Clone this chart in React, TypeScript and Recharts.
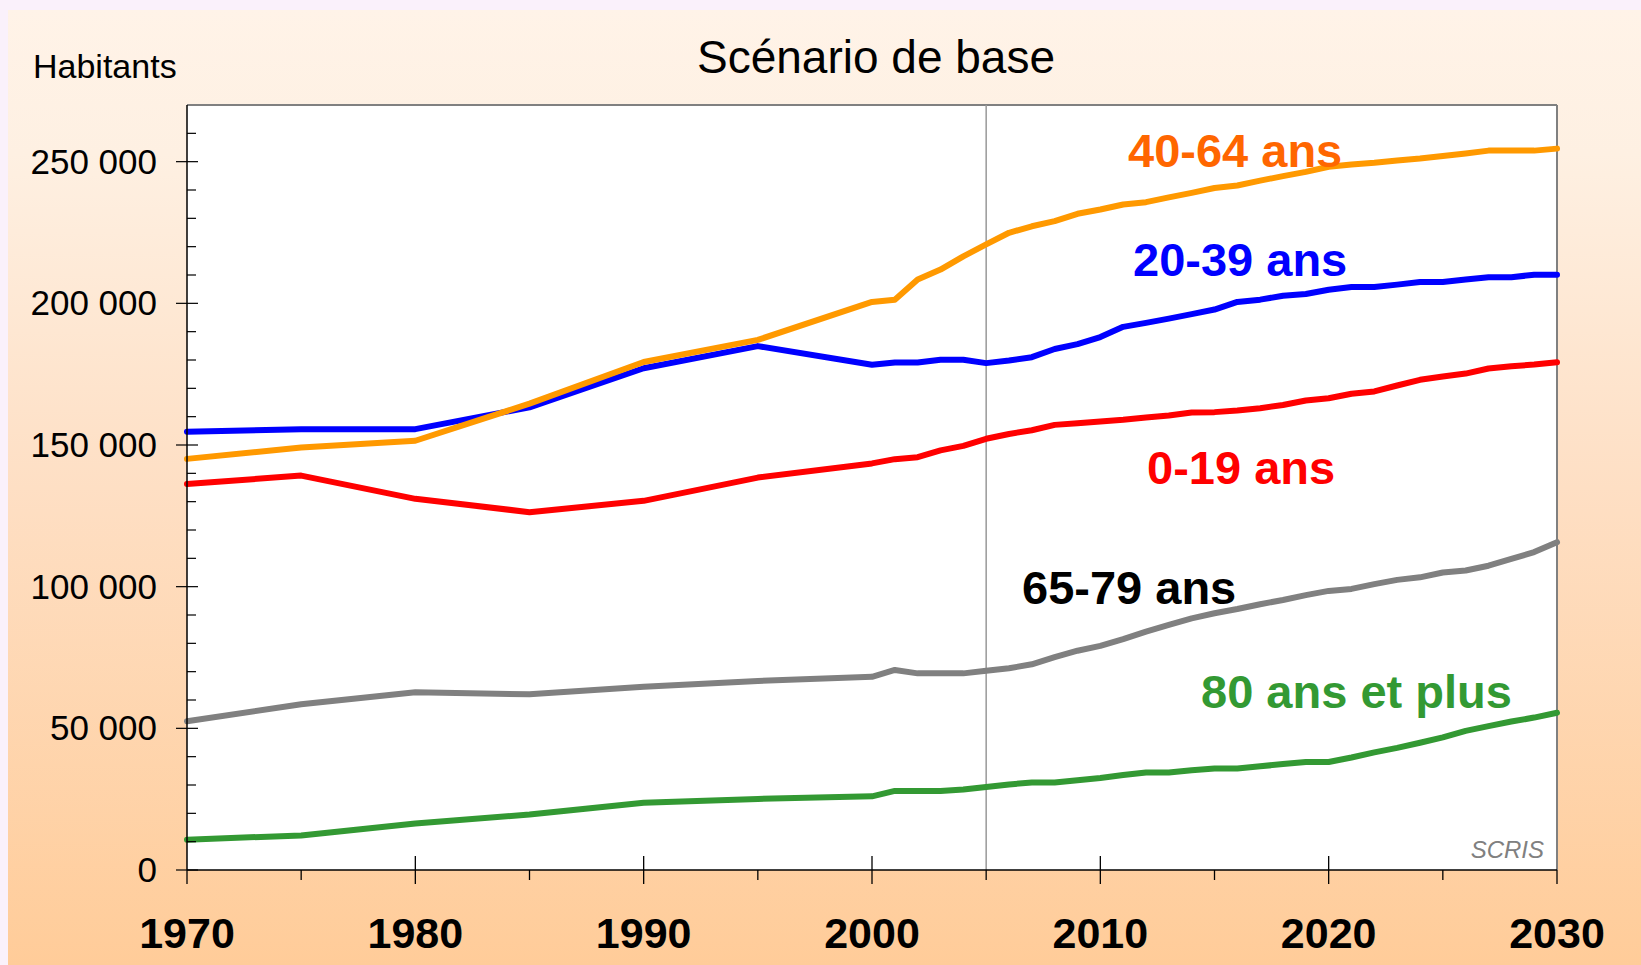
import React from "react";
import { LineChart, Line, XAxis, YAxis, CartesianGrid, ReferenceLine } from "recharts";

const years = [
  1970, 1975, 1980, 1985, 1990, 1995, 2000, 2001, 2002, 2003, 2004, 2005, 2006, 2007, 2008, 2009, 2010,
  2011, 2012, 2013, 2014, 2015, 2016, 2017, 2018, 2019, 2020, 2021, 2022, 2023, 2024, 2025, 2026, 2027,
  2028, 2029, 2030,
];

const age0to19 = [
  136200, 139200, 131000, 126300, 130300, 138500, 143500, 145000, 145700, 148100, 149700, 152200, 153900,
  155200, 157100, 157700, 158300, 158900, 159700, 160400, 161500, 161600, 162200, 163000, 164100, 165700,
  166500, 168100, 168900, 171000, 173000, 174200, 175200, 177000, 177800, 178400, 179200,
];

const age20to39 = [
  154700, 155600, 155600, 163300, 177100, 184900, 178300, 179100, 179100, 180100, 180100, 178900, 179800,
  181000, 183900, 185600, 188100, 191700, 193100, 194600, 196200, 197800, 200500, 201300, 202700, 203300,
  204800, 205800, 205800, 206600, 207500, 207500, 208400, 209200, 209200, 210100, 210100,
];

const age40to64 = [
  145100, 149100, 151500, 164600, 179300, 187100, 200500, 201300, 208400, 211900, 216600, 220800, 224900,
  227200, 229000, 231600, 233100, 234900, 235700, 237400, 239000, 240700, 241600, 243300, 244900, 246400,
  248200, 249000, 249600, 250400, 251100, 252000, 252900, 253900, 253900, 253900, 254600,
];

const age65to79 = [
  52500, 58500, 62700, 62000, 64700, 66700, 68200, 70600, 69400, 69400, 69400, 70300, 71200, 72600, 75100,
  77400, 79100, 81500, 84100, 86500, 88800, 90600, 92100, 93800, 95300, 97000, 98500, 99200, 100900,
  102400, 103300, 105000, 105700, 107400, 109800, 112200, 115700,
];

const age80plus = [
  10700, 12200, 16400, 19600, 23700, 25100, 26000, 27900, 27900, 27900, 28400, 29300, 30200, 30900, 30900,
  31700, 32500, 33500, 34400, 34400, 35200, 35800, 35800, 36600, 37400, 38100, 38100, 39700, 41500, 43100,
  44900, 46800, 49100, 50800, 52400, 53800, 55500,
];

const xTicks = [1970, 1975, 1980, 1985, 1990, 1995, 2000, 2005, 2010, 2015, 2020, 2025, 2030];
const yTicks = Array.from({ length: 27 }, (_, i) => i * 10000);

const data = years.map((year, i) => ({
  year,
  a0: age0to19[i],
  a20: age20to39[i],
  a40: age40to64[i],
  a65: age65to79[i],
  a80: age80plus[i],
}));

const FONT = "'Liberation Sans', Arial, sans-serif";

function YearTick({ x, y, payload }: any) {
  const v = payload.value;
  const major = v % 10 === 0;
  const edge = v === 1970 || v === 2030;
  return (
    <g>
      <line
        x1={x}
        x2={x}
        y1={major && !edge ? y - 14 : y}
        y2={y + (major ? 14 : 10)}
        stroke="#000"
        strokeWidth={1.3}
      />
      {major && (
        <text x={x} y={y + 78} textAnchor="middle" fontSize={43} fontWeight="bold" fill="#000" fontFamily={FONT}>
          {v}
        </text>
      )}
    </g>
  );
}

function ValueTick({ x, y, payload }: any) {
  const v = payload.value;
  const major = v % 50000 === 0;
  const label = v === 0 ? "0" : `${v / 1000} 000`;
  return (
    <g>
      <line x1={major ? x - 11 : x} x2={x + (major ? 11 : 9)} y1={y} y2={y} stroke="#000" strokeWidth={1.2} />
      {major && (
        <text x={x - 30} y={y + 12} textAnchor="end" fontSize={35} fill="#000" fontFamily={FONT}>
          {label}
        </text>
      )}
    </g>
  );
}

// one entry per age band, drawn back to front
const series = [
  { key: "a80", color: "#339933" },
  { key: "a65", color: "#808080" },
  { key: "a0", color: "#ff0000" },
  { key: "a20", color: "#0000ff" },
  { key: "a40", color: "#ff9900" },
];

export default function App() {
  return (
    <div style={{ position: "fixed", left: 0, top: 0, width: 1641, height: 965, background: "#faf1fb" }}>
      <div
        style={{
          position: "absolute",
          left: 8,
          top: 10,
          width: 1633,
          height: 955,
          background: "linear-gradient(to bottom, #fff3e8 0%, #fef0e2 15%, #fedfc4 50%, #ffcc99 100%)",
        }}
      />
      <div style={{ position: "absolute", left: 0, top: 0 }}>
        <LineChart width={1641} height={965} data={data} margin={{ top: 105, right: 84, bottom: 35, left: 37 }}>
          <CartesianGrid fill="#ffffff" horizontal={false} vertical={false} stroke="none" />
          <XAxis
            dataKey="year"
            type="number"
            domain={[1970, 2030]}
            ticks={xTicks}
            interval={0}
            tickLine={false}
            tickSize={0}
            tickMargin={0}
            tick={<YearTick />}
            axisLine={{ stroke: "#000", strokeWidth: 1.5 }}
            height={60}
          />
          <YAxis
            type="number"
            domain={[0, 270000]}
            ticks={yTicks}
            interval={0}
            tickLine={false}
            tickSize={0}
            tickMargin={0}
            tick={<ValueTick />}
            axisLine={{ stroke: "#000", strokeWidth: 1.5 }}
            width={150}
          />
          <ReferenceLine y={270000} stroke="#808080" strokeWidth={2} />
          <ReferenceLine x={2030} stroke="#808080" strokeWidth={2} />
          <ReferenceLine x={2005} stroke="#999999" strokeWidth={1.5} />
          {series.map((s) => (
            <Line
              key={s.key}
              type="linear"
              dataKey={s.key}
              stroke={s.color}
              strokeWidth={6}
              strokeLinecap="round"
              strokeLinejoin="round"
              dot={false}
              isAnimationActive={false}
            />
          ))}
        </LineChart>
      </div>
      <svg
        width={1641}
        height={965}
        style={{ position: "absolute", left: 0, top: 0, pointerEvents: "none" }}
        fontFamily={FONT}
      >
        <text x={33} y={78} fontSize={34} fill="#000">
          Habitants
        </text>
        <text x={876} y={73} fontSize={46} fill="#000" textAnchor="middle">
          Scénario de base
        </text>
        <text x={1128} y={167} fontSize={47} fontWeight="bold" fill="#ff6600">
          40-64 ans
        </text>
        <text x={1133} y={276} fontSize={47} fontWeight="bold" fill="#0000ff">
          20-39 ans
        </text>
        <text x={1147} y={484} fontSize={47} fontWeight="bold" fill="#ff0000">
          0-19 ans
        </text>
        <text x={1022} y={604} fontSize={47} fontWeight="bold" fill="#000">
          65-79 ans
        </text>
        <text x={1201} y={708} fontSize={47} fontWeight="bold" fill="#339933">
          80 ans et plus
        </text>
        <text x={1544} y={858} fontSize={24} fontStyle="italic" fill="#808080" textAnchor="end">
          SCRIS
        </text>
      </svg>
    </div>
  );
}
